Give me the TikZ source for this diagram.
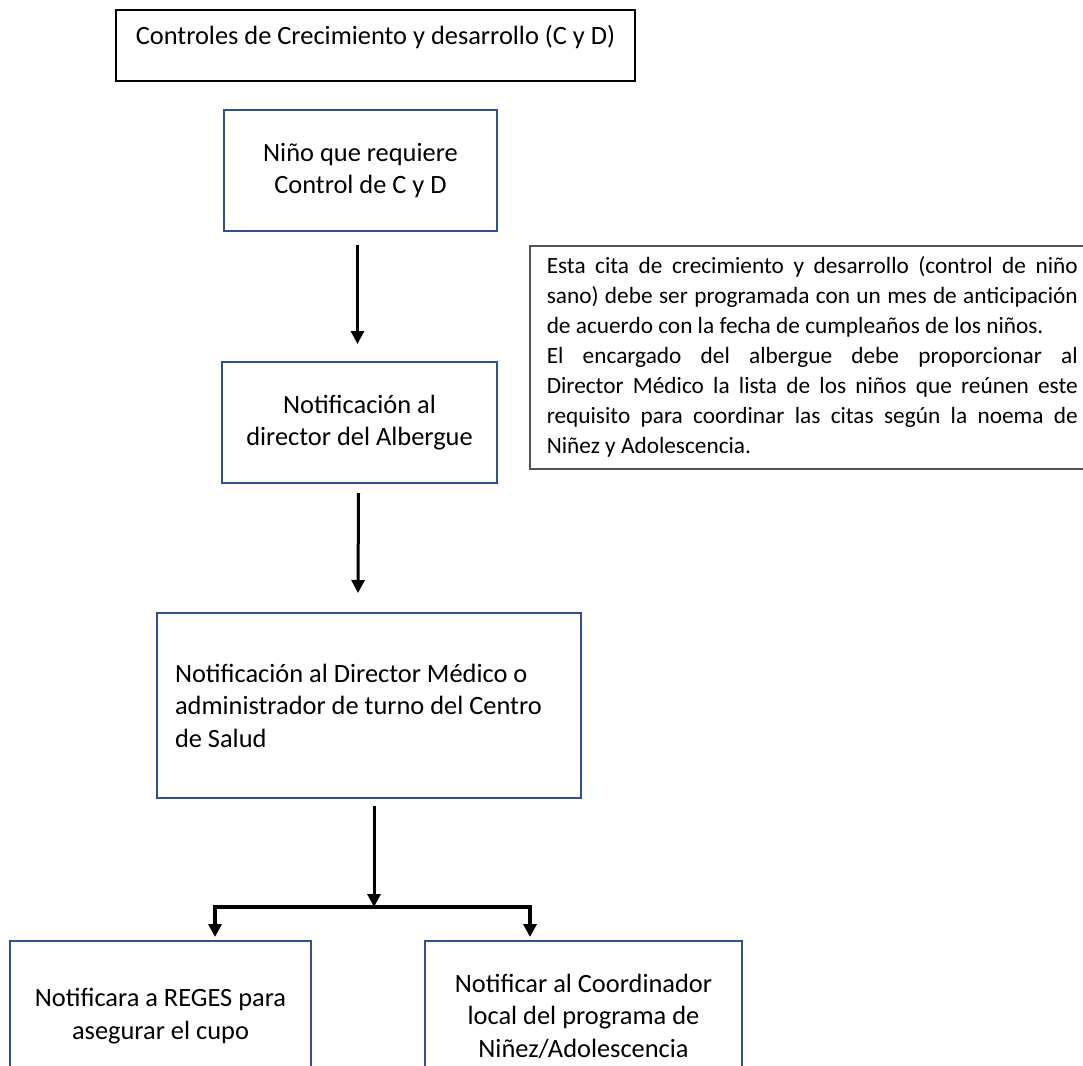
\documentclass[tikz,border=0pt]{standalone}
\usepackage{fontspec}
\setmainfont{Carlito}
\usetikzlibrary{arrows.meta,calc}
\definecolor{boxblue}{RGB}{47,82,143}
\definecolor{notegray}{RGB}{85,85,85}
\begin{document}
\begin{tikzpicture}[x=1pt,y=-1pt,
  every node/.style={font=\fontsize{26.4}{32.5}\selectfont},
  bbox/.style={draw=boxblue,line width=2pt,align=center,inner sep=0pt},
  arr/.style={line width=3pt,-{Triangle[width=13pt,length=13pt]}}]
\useasboundingbox (0,0) rectangle (1083,1065);
\clip (0,0) rectangle (1083,1065);
\fill[white] (0,0) rectangle (1083,1065);

\node[draw=black,line width=1.5pt,minimum width=519pt,inner ysep=0pt,
  text height=35pt,text depth=36pt] (top) at (375.5,45.5)
  {Controles de Crecimiento y desarrollo (C y D)};

\node[bbox,minimum width=273pt,minimum height=121pt] (b2) at (360.5,170.5)
  {Niño que requiere\\Control de C y D};

\node[bbox,minimum width=275pt,minimum height=121pt] (b3) at (359.5,422.5)
  {Notificación al\\director del Albergue};

\node[bbox,minimum width=424pt,minimum height=185pt,text width=388pt,
  align=flush left,inner xsep=18pt] (b4) at (369,705.5)
  {Notificación al Director Médico o\\administrador de turno del Centro\\de Salud};

\node[bbox,minimum width=301pt,minimum height=150pt] (b5) at (160.5,1016)
  {Notificara a REGES para\\asegurar el cupo};

\node[bbox,minimum width=317pt,minimum height=150pt] (b6) at (583.5,1016)
  {Notificar al Coordinador\\local del programa de\\Niñez/Adolescencia};

\node[draw=notegray,line width=1.5pt,anchor=north west,inner xsep=17pt,
  inner ysep=0pt,minimum height=223pt,text width=531pt,align=justify,
  font=\fontsize{23.3}{30}\selectfont] (note) at (529,245)
  {\hyphenpenalty=10000\relax\exhyphenpenalty=10000\relax
   Esta cita de crecimiento y desarrollo (control de niño\linebreak
   sano) debe ser programada con un mes de anticipación\linebreak
   de acuerdo con la fecha de cumpleaños de los niños.\par
   El encargado del albergue debe proporcionar al\linebreak
   Director Médico la lista de los niños que reúnen este\linebreak
   requisito para coordinar las citas según la noema de\linebreak
   Niñez y Adolescencia.};

\draw[arr] ($(b2.south)+(-3,13)$) -- ($(b3.north)+(-2,-17)$);
\draw[arr] ($(b3.south)+(-1,9)$) -- ($(b4.north)+(-11,-19)$);

\coordinate (j) at (374,907);
\coordinate (jl) at (215,907);
\coordinate (jr) at (530,907);
\draw[arr] ($(b4.south)+(5,7)$) -- (j);
\draw[line width=3.5pt,{Triangle[width=13pt,length=13pt]}-{Triangle[width=13pt,length=13pt]}]
  ($(jl |- b5.north)+(0,-3)$) -- (jl) -- (jr) -- ($(jr |- b6.north)+(0,-3)$);
\end{tikzpicture}
\end{document}
